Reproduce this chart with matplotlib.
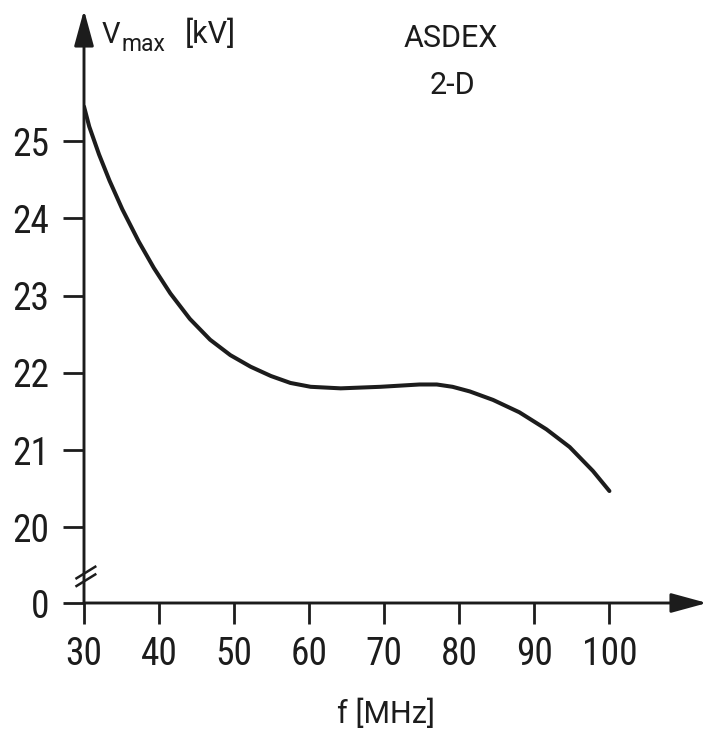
import numpy as np
import matplotlib
matplotlib.use("Agg")
import matplotlib.pyplot as plt

# V_max vs frequency, ASDEX 2-D
freq = [30, 30.7, 32, 33.4, 35.1, 37.3, 39.3, 41.5, 44.1, 46.8, 49.5, 52.2,
        54.9, 57.5, 60.2, 64.2, 69.5, 74.7, 77.0, 79.1, 81.4, 84.5, 88.0,
        91.6, 94.7, 97.8, 100]
vmax = [25.45, 25.19, 24.83, 24.49, 24.12, 23.70, 23.36, 23.03, 22.70, 22.43,
        22.23, 22.08, 21.96, 21.87, 21.82, 21.80, 21.82, 21.85, 21.85, 21.82,
        21.76, 21.65, 21.49, 21.27, 21.04, 20.73, 20.47]

xticks = [30, 40, 50, 60, 70, 80, 90, 100]
yticks = [20, 21, 22, 23, 24, 25]

# broken axis: the "0" level sits just below 20
zero_level = 19.02
ink = "#1c1c1c"

plt.rcParams["font.family"] = ["Roboto Condensed", "DejaVu Sans"]
plt.rcParams["font.stretch"] = "condensed"

W, H = 709, 729
fig = plt.figure(figsize=(W / 100, H / 100), dpi=100)
ax = fig.add_axes([84 / W, 126 / H, 623 / W, 593 / H])
ax.set_xlim(30, 113)
ax.set_ylim(zero_level, 26.7)

for s in ax.spines.values():
    s.set_visible(False)

ax.plot(freq, vmax, color=ink, lw=2.9, solid_capstyle="round",
        solid_joinstyle="round")

# axes with arrow heads
arrow = dict(arrowstyle="-|>,head_length=1.1,head_width=0.3", color=ink,
             lw=2.1, shrinkA=0, shrinkB=0, mutation_scale=20)
ax.annotate("", xy=(30, 26.7), xytext=(30, zero_level), arrowprops=arrow,
            annotation_clip=False)
ax.annotate("", xy=(113, zero_level), xytext=(30, zero_level),
            arrowprops=arrow, annotation_clip=False)

ax.set_xticks(xticks)
ax.set_xticklabels([str(t) for t in xticks])
ax.set_yticks([zero_level] + yticks)
ax.set_yticklabels(["0"] + [str(t) for t in yticks])
ax.tick_params(axis="x", direction="out", length=15, width=2.0, color=ink,
               pad=9, labelsize=27, labelcolor=ink)
ax.tick_params(axis="y", direction="out", length=15, width=2.0, color=ink,
               pad=10, labelsize=27, labelcolor=ink)

# axis break marks
brk = zero_level + 0.3
for off in (0.0, 0.1):
    ax.plot([29.0, 31.5], [brk + off - 0.08, brk + off + 0.07], color=ink,
            lw=1.8, clip_on=False)

# labels, placed in pixel units
lab = dict(family="Roboto", stretch="normal", color=ink, va="baseline")
fig.text(102 / W, 1 - 43 / H, "V", fontsize=21, ha="left", **lab)
fig.text(121 / W, 1 - 51 / H, "max", fontsize=16.5, ha="left", **lab)
fig.text(210 / W, 1 - 43 / H, "[kV]", fontsize=22, ha="center", **lab)
fig.text(386 / W, 1 - 723 / H, "f [MHz]", fontsize=22, ha="center", **lab)
fig.text(451 / W, 1 - 47 / H, "ASDEX", fontsize=22, ha="center", **lab)
fig.text(452 / W, 1 - 94 / H, "2-D", fontsize=22, ha="center", **lab)

fig.savefig("out.png", dpi=100, facecolor="white")
